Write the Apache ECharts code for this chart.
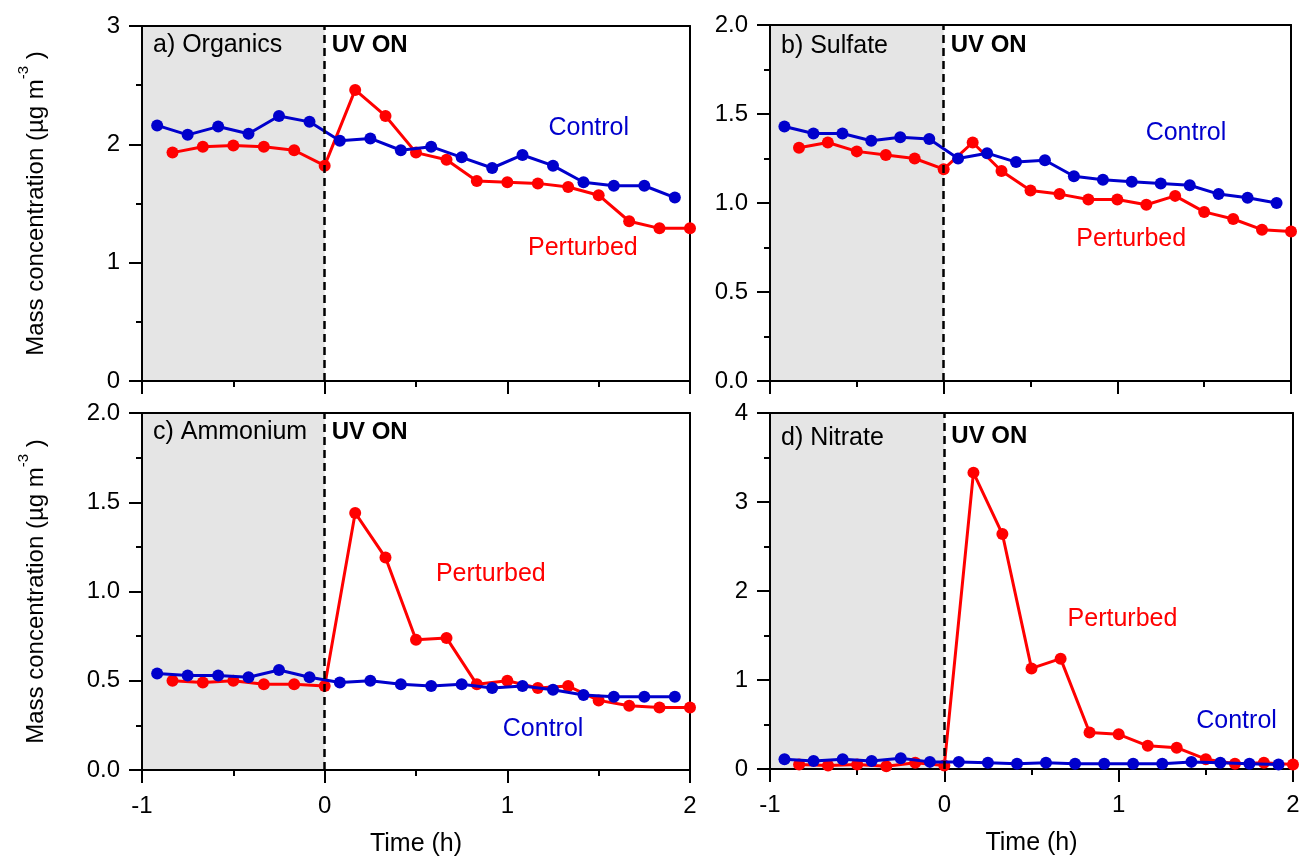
<!DOCTYPE html>
<html><head><meta charset="utf-8">
<script src="https://cdn.jsdelivr.net/npm/echarts@6/dist/echarts.min.js"></script>
<style>html,body{margin:0;padding:0;background:#fff}#c{width:1303px;height:859px}</style>
</head><body><div id="c"></div>
<script>
// ---- data (time in hours) ----
const tControl   = [-0.917,-0.75,-0.583,-0.417,-0.25,-0.083,0.083,0.25,0.417,0.583,0.75,0.917,1.083,1.25,1.417,1.583,1.75,1.917];
const tPerturbed = [-0.833,-0.667,-0.5,-0.333,-0.167,0,0.167,0.333,0.5,0.667,0.833,1.0,1.167,1.333,1.5,1.667,1.833,2.0];

const organicsControl   = [2.16,2.08,2.15,2.09,2.24,2.19,2.03,2.05,1.95,1.98,1.89,1.80,1.91,1.82,1.68,1.65,1.65,1.55];
const organicsPerturbed = [1.93,1.98,1.99,1.98,1.95,1.82,2.46,2.24,1.93,1.87,1.69,1.68,1.67,1.64,1.57,1.35,1.29,1.29];
const sulfateControl    = [1.43,1.39,1.39,1.35,1.37,1.36,1.25,1.28,1.23,1.24,1.15,1.13,1.12,1.11,1.10,1.05,1.03,1.00];
const sulfatePerturbed  = [1.31,1.34,1.29,1.27,1.25,1.19,1.34,1.18,1.07,1.05,1.02,1.02,0.99,1.04,0.95,0.91,0.85,0.84];
const ammoniumControl   = [0.54,0.53,0.53,0.52,0.56,0.52,0.49,0.50,0.48,0.47,0.48,0.46,0.47,0.45,0.42,0.41,0.41,0.41];
const ammoniumPerturbed = [0.50,0.49,0.50,0.48,0.48,0.47,1.44,1.19,0.73,0.74,0.48,0.50,0.46,0.47,0.39,0.36,0.35,0.35];
const nitrateControl    = [0.11,0.09,0.11,0.09,0.12,0.08,0.08,0.07,0.06,0.07,0.06,0.06,0.06,0.06,0.08,0.07,0.06,0.05];
const nitratePerturbed  = [0.05,0.04,0.05,0.03,0.07,0.04,3.33,2.64,1.13,1.24,0.41,0.39,0.26,0.24,0.11,0.06,0.07,0.05];

const panelTitles = ['a) Organics','b) Sulfate','c) Ammonium','d) Nitrate'];
const yMax        = [3, 2, 2, 4];
const yStep       = [1, 0.5, 0.5, 1];
const yDecimals   = [0, 1, 1, 0];
// annotation anchors in data coordinates [x of left edge, y of centre]
const controlLabelAt   = [[1.225,2.140],[1.163,1.391],[0.975,0.231],[1.445,0.537]];
const perturbedLabelAt = [[1.113,1.124],[0.764,0.795],[0.609,1.095],[0.707,1.683]];
const uvOnAt = 0;
const shadeFrom = -1, shadeTo = 0;

// ---- layout / style ----
const FONT = '"Liberation Sans", Arial, sans-serif';
const RED = '#ff0000', BLUE = '#0000cc';
const grids = [
  {left:142, top:26, width:548, height:355},
  {left:770, top:25, width:521, height:356},
  {left:142, top:413, width:548, height:357},
  {left:770, top:413, width:523, height:356}
];
const titleOffset = [19, 21, 19, 25];
const uvOffset    = [19, 20, 19, 23];

const controls   = [organicsControl, sulfateControl, ammoniumControl, nitrateControl];
const perturbeds = [organicsPerturbed, sulfatePerturbed, ammoniumPerturbed, nitratePerturbed];
const pairs = (t, v) => t.map((x, i) => [x, v[i]]);

const xAxes = [], yAxes = [], series = [];
grids.forEach((g, i) => {
  const bottomRow = i >= 2, leftCol = i % 2 === 0;
  xAxes.push({
    type:'value', gridIndex:i, min:-1, max:2, interval:1, position:'bottom', z:2,
    axisLine:{show:true, onZero:false, lineStyle:{color:'#000', width:2}},
    axisTick:{show:true, length:13, lineStyle:{color:'#000', width:2}},
    minorTick:{show:true, splitNumber:2, length:6, lineStyle:{color:'#000', width:2}},
    splitLine:{show:false},
    axisLabel:{show:bottomRow, margin:24, color:'#000', fontSize:24, fontFamily:FONT},
    name: bottomRow ? 'Time (h)' : '', nameLocation:'middle', nameGap:62,
    nameTextStyle:{color:'#000', fontSize:25, fontFamily:FONT}
  });
  xAxes.push({
    type:'value', gridIndex:i, min:-1, max:2, position:'top', z:2,
    axisLine:{show:true, onZero:false, lineStyle:{color:'#000', width:2}},
    axisTick:{show:false}, axisLabel:{show:false}, splitLine:{show:false}
  });
  yAxes.push({
    type:'value', gridIndex:i, min:0, max:yMax[i], interval:yStep[i], position:'left', z:2,
    axisLine:{show:true, onZero:false, lineStyle:{color:'#000', width:2}},
    axisTick:{show:true, length:13, lineStyle:{color:'#000', width:2}},
    minorTick:{show:true, splitNumber:2, length:6, lineStyle:{color:'#000', width:2}},
    splitLine:{show:false},
    axisLabel:{show:true, margin:22, color:'#000', fontSize:24, fontFamily:FONT,
      formatter: v => v.toFixed(yDecimals[i])},
    name: leftCol ? '{n|Mass concentration (µg m}{s|-3}{n| )}' : '',
    nameLocation:'middle', nameRotate:90, nameGap:86,
    nameTextStyle:{color:'#000', fontSize:24, fontFamily:FONT,
      rich:{
        n:{fontSize:24, lineHeight:40, fontFamily:FONT, color:'#000'},
        s:{fontSize:15, lineHeight:15, verticalAlign:'top', fontFamily:FONT, color:'#000'}
      }}
  });
  yAxes.push({
    type:'value', gridIndex:i, min:0, max:yMax[i], position:'right', z:2,
    axisLine:{show:true, onZero:false, lineStyle:{color:'#000', width:2}},
    axisTick:{show:false}, axisLabel:{show:false}, splitLine:{show:false}
  });
  // shading + UV ON line
  series.push({
    type:'line', xAxisIndex:2*i, yAxisIndex:2*i, data:[], z:1, silent:true,
    markArea:{silent:true, itemStyle:{color:'#e5e5e5'}, data:[[{xAxis:shadeFrom},{xAxis:shadeTo}]]},
    markLine:{silent:true, symbol:['none','none'], label:{show:false},
      lineStyle:{color:'#000', width:2.5, type:[8,5]}, data:[{xAxis:uvOnAt}]}
  });
  series.push({
    name:'Perturbed', type:'line', xAxisIndex:2*i, yAxisIndex:2*i, z:3, clip:false,
    data:pairs(tPerturbed, perturbeds[i]), symbol:'circle', symbolSize:12,
    lineStyle:{color:RED, width:3}, itemStyle:{color:RED}
  });
  series.push({
    name:'Control', type:'line', xAxisIndex:2*i, yAxisIndex:2*i, z:4, clip:false,
    data:pairs(tControl, controls[i]), symbol:'circle', symbolSize:12,
    lineStyle:{color:BLUE, width:3}, itemStyle:{color:BLUE}
  });
});

const chart = echarts.init(document.getElementById('c'), null, {renderer:'canvas'});
chart.setOption({
  animation:false, backgroundColor:'#fff',
  grid:grids.map(g => Object.assign({containLabel:false}, g)),
  xAxis:xAxes, yAxis:yAxes, series:series
});

const txt = (x, y, text, color, size, weight) => ({
  type:'text', x:x, y:y, z:10,
  style:{text:text, fill:color, font:(weight||'normal') + ' ' + size + 'px ' + FONT,
    textAlign:'left', textVerticalAlign:'middle'}
});
const graphics = [];
grids.forEach((g, i) => {
  graphics.push(txt(g.left + 11, g.top + titleOffset[i], panelTitles[i], '#000', 25));
  const uv = chart.convertToPixel({gridIndex:i}, [uvOnAt, 0]);
  graphics.push(txt(uv[0] + 7, g.top + uvOffset[i], 'UV ON', '#000', 24, 'bold'));
  const c = chart.convertToPixel({gridIndex:i}, controlLabelAt[i]);
  graphics.push(txt(c[0], c[1], 'Control', BLUE, 25));
  const p = chart.convertToPixel({gridIndex:i}, perturbedLabelAt[i]);
  graphics.push(txt(p[0], p[1], 'Perturbed', RED, 25));
});
chart.setOption({graphic:graphics});
</script></body></html>
